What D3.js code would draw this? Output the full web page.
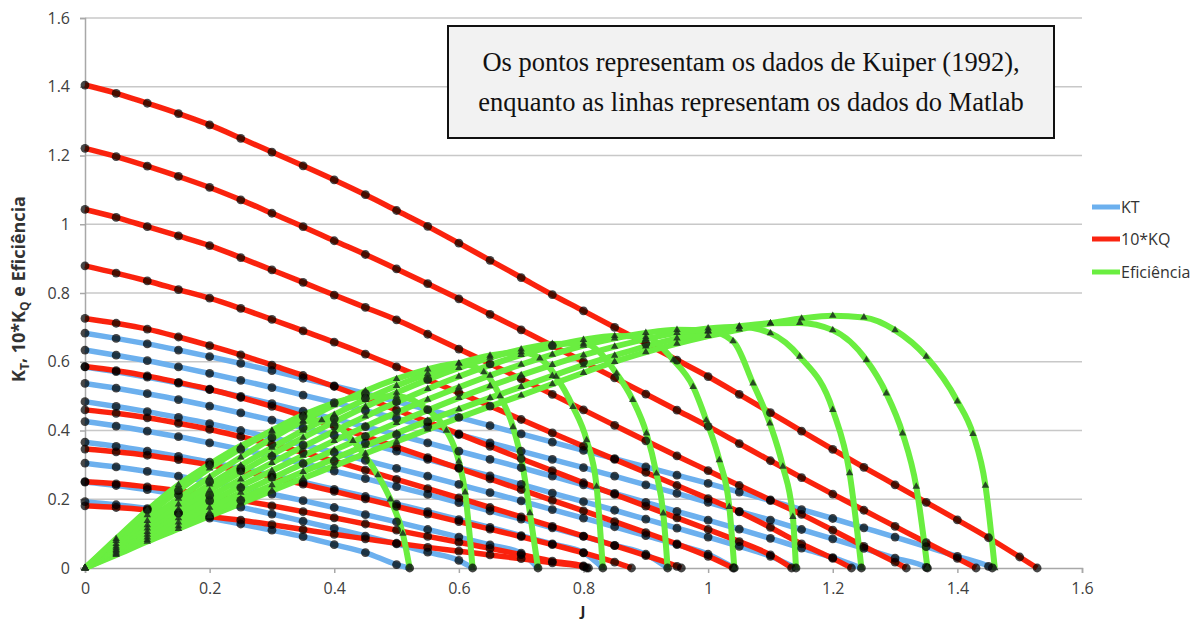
<!DOCTYPE html>
<html lang="en">
<head>
<meta charset="utf-8">
<title>KT, 10*KQ e Eficiência</title>
<script src="https://d3js.org/d3.v7.min.js"></script>
<style>
  body { margin: 0; background: #fff; }
  .tick text { font-family: "Open Sans", sans-serif; font-size: 16px; fill: #404040; }
  .tick line, .domain { stroke: #a8a8a8; stroke-width: 1.5; }
  .grid line { stroke: #c8c8c8; stroke-width: 1.5; }
</style>
</head>
<body>
<script>
const w = 1195, h = 621;

// J grid shared by the KT and 10*KQ curves
const J = [0,0.05,0.1,0.15,0.2,0.25,0.3,0.35,0.4,0.45,0.5,0.55,0.6,0.65,0.7,0.75,0.8,0.85,0.9,0.95,1,1.05,1.1,1.15,1.2,1.25,1.3,1.35,1.4,1.45,1.5];
const pitch = [1.4,1.3,1.2,1.1,1.0,0.9,0.8,0.7,0.6,0.5];

// KT (values on J grid) + J where KT reaches zero
const kt14 = [0.683,0.668,0.652,0.634,0.615,0.595,0.574,0.552,0.530,0.507,0.484,0.461,0.438,0.414,0.390,0.366,0.342,0.318,0.294,0.270,0.246,0.221,0.196,0.170,0.144,0.117,0.090,0.062,0.034,0.005];
const kt13 = [0.634,0.619,0.603,0.585,0.566,0.546,0.525,0.503,0.481,0.458,0.435,0.412,0.388,0.364,0.340,0.316,0.292,0.267,0.242,0.217,0.191,0.165,0.139,0.112,0.085,0.057,0.029,0.002];
const kt12 = [0.585,0.571,0.555,0.538,0.519,0.499,0.478,0.456,0.434,0.411,0.388,0.364,0.340,0.316,0.292,0.267,0.242,0.217,0.191,0.165,0.139,0.113,0.086,0.058,0.030];
const kt11 = [0.537,0.523,0.507,0.490,0.471,0.451,0.430,0.408,0.386,0.363,0.340,0.316,0.292,0.268,0.243,0.218,0.193,0.168,0.142,0.116,0.090,0.063,0.034];
const kt10 = [0.484,0.470,0.455,0.438,0.420,0.400,0.379,0.358,0.336,0.313,0.290,0.267,0.243,0.219,0.195,0.170,0.145,0.120,0.094,0.068,0.040];
const kt09 = [0.426,0.413,0.398,0.382,0.364,0.345,0.325,0.304,0.282,0.260,0.237,0.214,0.190,0.166,0.142,0.117,0.092,0.066,0.040];
const kt08 = [0.366,0.354,0.340,0.325,0.308,0.290,0.270,0.250,0.229,0.208,0.186,0.164,0.141,0.118,0.094,0.070,0.045];
const kt07 = [0.305,0.294,0.281,0.267,0.251,0.234,0.215,0.196,0.176,0.155,0.134,0.112,0.090,0.067,0.043];
const kt06 = [0.250,0.240,0.228,0.213,0.196,0.177,0.157,0.136,0.115,0.093,0.070,0.046,0.022];
const kt05 = [0.193,0.184,0.173,0.160,0.145,0.128,0.110,0.091,0.068,0.045,0.010];
const ktEnds = [1.456,1.352,1.246,1.141,1.042,0.935,0.831,0.727,0.622,0.521];

// 10*KQ (values on J grid) + J where it reaches zero
const kq14 = [1.405,1.381,1.352,1.322,1.289,1.250,1.210,1.170,1.129,1.086,1.040,0.994,0.945,0.895,0.845,0.795,0.748,0.700,0.653,0.605,0.557,0.505,0.452,0.398,0.345,0.293,0.242,0.191,0.140,0.088,0.032];
const kq13 = [1.221,1.197,1.169,1.139,1.107,1.071,1.032,0.993,0.952,0.912,0.870,0.827,0.783,0.738,0.693,0.647,0.600,0.553,0.506,0.459,0.412,0.362,0.312,0.263,0.215,0.168,0.121,0.074,0.028];
const kq12 = [1.043,1.020,0.993,0.966,0.938,0.903,0.867,0.831,0.794,0.758,0.722,0.680,0.637,0.594,0.550,0.505,0.460,0.415,0.370,0.326,0.283,0.240,0.198,0.156,0.110,0.063,0.017];
const kq11 = [0.879,0.858,0.835,0.810,0.785,0.755,0.723,0.690,0.657,0.622,0.585,0.548,0.510,0.471,0.432,0.393,0.354,0.316,0.278,0.240,0.202,0.163,0.118,0.070,0.028];
const kq10 = [0.726,0.712,0.695,0.672,0.647,0.620,0.590,0.560,0.528,0.494,0.460,0.425,0.390,0.354,0.318,0.283,0.248,0.214,0.180,0.146,0.112,0.077,0.038];
const kq09 = [0.586,0.574,0.559,0.540,0.520,0.496,0.470,0.442,0.413,0.383,0.352,0.321,0.290,0.259,0.228,0.197,0.166,0.135,0.103,0.070,0.034];
const kq08 = [0.460,0.450,0.437,0.421,0.403,0.382,0.360,0.336,0.311,0.285,0.258,0.231,0.204,0.176,0.149,0.121,0.093,0.065,0.036,0.005];
const kq07 = [0.346,0.338,0.328,0.315,0.300,0.283,0.264,0.244,0.223,0.201,0.179,0.157,0.135,0.113,0.091,0.068,0.044,0.017];
const kq06 = [0.251,0.245,0.236,0.225,0.212,0.197,0.181,0.164,0.146,0.128,0.110,0.092,0.075,0.057,0.039,0.020,0.006];
const kq05 = [0.181,0.176,0.169,0.160,0.150,0.139,0.126,0.112,0.098,0.085,0.072,0.060,0.049,0.038,0.027,0.015,0.004];
const kqEnds = [1.528,1.43,1.318,1.23,1.134,1.04,0.957,0.877,0.805,0.808];

// efficiency, [J, eta]
const eta14 = [[0,0],[0.05,0.038],[0.1,0.077],[0.15,0.114],[0.2,0.151],[0.25,0.188],[0.3,0.225],[0.35,0.261],[0.4,0.297],[0.45,0.333],[0.5,0.368],[0.55,0.403],[0.6,0.437],[0.65,0.47],[0.7,0.502],[0.75,0.535],[0.8,0.568],[0.85,0.6],[0.9,0.628],[0.95,0.653],[1,0.675],[1.05,0.694],[1.1,0.712],[1.15,0.726],[1.2,0.734],[1.25,0.729],[1.3,0.692],[1.35,0.615],[1.4,0.485],[1.425,0.39],[1.445,0.24],[1.46,0]];
const eta13 = [[0,0],[0.05,0.041],[0.1,0.082],[0.15,0.122],[0.2,0.162],[0.25,0.202],[0.3,0.241],[0.35,0.28],[0.4,0.318],[0.45,0.356],[0.5,0.392],[0.55,0.428],[0.6,0.462],[0.65,0.495],[0.7,0.527],[0.75,0.559],[0.8,0.59],[0.85,0.618],[0.9,0.645],[0.95,0.668],[1,0.688],[1.05,0.703],[1.1,0.712],[1.147,0.713],[1.2,0.692],[1.254,0.605],[1.286,0.508],[1.312,0.392],[1.334,0.237],[1.352,0]];
const eta12 = [[0,0],[0.05,0.045],[0.1,0.089],[0.15,0.133],[0.2,0.176],[0.25,0.219],[0.3,0.261],[0.35,0.303],[0.4,0.343],[0.45,0.383],[0.5,0.422],[0.55,0.459],[0.6,0.495],[0.65,0.529],[0.7,0.561],[0.75,0.591],[0.8,0.619],[0.85,0.644],[0.9,0.666],[0.95,0.684],[1,0.697],[1.05,0.702],[1.1,0.683],[1.147,0.615],[1.2,0.46],[1.227,0.276],[1.246,0]];
const eta11 = [[0,0],[0.05,0.049],[0.1,0.097],[0.15,0.145],[0.2,0.192],[0.25,0.238],[0.3,0.283],[0.35,0.327],[0.4,0.37],[0.45,0.412],[0.5,0.452],[0.55,0.49],[0.6,0.526],[0.65,0.56],[0.7,0.592],[0.75,0.621],[0.8,0.647],[0.85,0.668],[0.9,0.684],[0.95,0.693],[1,0.69],[1.04,0.66],[1.072,0.537],[1.099,0.421],[1.12,0.295],[1.136,0.149],[1.141,0]];
const eta10 = [[0,0],[0.05,0.053],[0.1,0.105],[0.15,0.157],[0.2,0.208],[0.25,0.258],[0.3,0.306],[0.35,0.353],[0.4,0.398],[0.45,0.441],[0.5,0.482],[0.55,0.521],[0.6,0.557],[0.65,0.59],[0.7,0.62],[0.75,0.645],[0.8,0.664],[0.85,0.675],[0.9,0.672],[0.944,0.605],[0.976,0.527],[0.997,0.43],[1.018,0.314],[1.034,0.178],[1.042,0]];
const eta09 = [[0,0],[0.05,0.058],[0.1,0.115],[0.15,0.171],[0.2,0.226],[0.25,0.279],[0.3,0.33],[0.35,0.379],[0.4,0.425],[0.45,0.469],[0.5,0.51],[0.55,0.548],[0.6,0.582],[0.65,0.612],[0.7,0.636],[0.75,0.652],[0.8,0.653],[0.853,0.566],[0.879,0.489],[0.901,0.392],[0.917,0.275],[0.928,0.159],[0.935,0]];
const eta08 = [[0,0],[0.05,0.063],[0.1,0.125],[0.15,0.185],[0.2,0.243],[0.25,0.298],[0.3,0.35],[0.35,0.4],[0.4,0.446],[0.45,0.49],[0.5,0.53],[0.55,0.565],[0.6,0.595],[0.65,0.618],[0.7,0.628],[0.73,0.61],[0.756,0.557],[0.783,0.469],[0.805,0.372],[0.821,0.237],[0.831,0]];
const eta07 = [[0,0],[0.05,0.07],[0.1,0.137],[0.15,0.202],[0.2,0.264],[0.25,0.322],[0.3,0.377],[0.35,0.428],[0.4,0.474],[0.45,0.515],[0.5,0.55],[0.55,0.578],[0.6,0.595],[0.64,0.57],[0.666,0.5],[0.687,0.41],[0.703,0.29],[0.714,0.16],[0.727,0]];
const eta06 = [[0,0],[0.05,0.079],[0.1,0.154],[0.15,0.225],[0.2,0.29],[0.25,0.348],[0.3,0.4],[0.35,0.445],[0.4,0.48],[0.45,0.5],[0.5,0.5],[0.55,0.46],[0.58,0.4],[0.6,0.31],[0.61,0.22],[0.622,0]];
const eta05 = [[0,0],[0.05,0.085],[0.1,0.168],[0.15,0.242],[0.2,0.302],[0.25,0.355],[0.3,0.397],[0.35,0.425],[0.38,0.43],[0.4,0.42],[0.43,0.37],[0.45,0.325],[0.47,0.27],[0.49,0.2],[0.51,0.1],[0.521,0]];

const xTicks = [0,0.2,0.4,0.6,0.8,1,1.2,1.4,1.6];
const yTicks = [0,0.2,0.4,0.6,0.8,1,1.2,1.4,1.6];
const legendLabels = ["KT","10*KQ","Eficiência"];
const noteLines = ["Os pontos representam os dados de Kuiper (1992),",
                   "enquanto as linhas representam os dados do Matlab"];

const colors = { kt: "#6cb0ee", kq: "#fa2410", eta: "#6aee40" };

const x = d3.scaleLinear().domain([0, 1.6]).range([85, 1082]);
const y = d3.scaleLinear().domain([0, 1.6]).range([568, 18]);

const onGrid = (vals, end) => vals.map((v, k) => [J[k], v]).concat([[end, 0]]);
const ktSeries = [kt14,kt13,kt12,kt11,kt10,kt09,kt08,kt07,kt06,kt05].map((v,i) => onGrid(v, ktEnds[i]));
const kqSeries = [kq14,kq13,kq12,kq11,kq10,kq09,kq08,kq07,kq06,kq05].map((v,i) => onGrid(v, kqEnds[i]));
const etaSeries = [eta14,eta13,eta12,eta11,eta10,eta09,eta08,eta07,eta06,eta05];

const svg = d3.select("body").append("svg")
  .attr("width", w).attr("height", h)
  .style("font-family", "'Open Sans', sans-serif");

const defs = svg.append("defs");
defs.append("filter").attr("id", "soft")
  .append("feGaussianBlur").attr("stdDeviation", 0.55);

// gridlines
svg.append("g").attr("class", "grid")
  .selectAll("line").data(yTicks.filter(d => d > 0)).enter().append("line")
  .attr("x1", x(0)).attr("x2", x(1.6))
  .attr("y1", d => y(d)).attr("y2", d => y(d));

svg.append("g")
  .attr("transform", "translate(" + x(0) + ",0)")
  .call(d3.axisLeft(y).tickValues(yTicks).tickSize(5).tickPadding(10).tickFormat(d => String(d)));

svg.append("g")
  .attr("transform", "translate(0," + y(0) + ")")
  .call(d3.axisBottom(x).tickValues(xTicks).tickSize(5).tickPadding(10).tickFormat(d => String(d)));

const line = d3.line().x(d => x(d[0])).y(d => y(d[1])).curve(d3.curveMonotoneX);

const plot = svg.append("g").attr("filter", "url(#soft)");

plot.selectAll("path.kt").data(ktSeries).enter().append("path")
  .attr("class", "kt").attr("d", line)
  .attr("fill", "none").attr("stroke", colors.kt).attr("stroke-width", 5.5);

plot.selectAll("path.kq").data(kqSeries).enter().append("path")
  .attr("class", "kq").attr("d", line)
  .attr("fill", "none").attr("stroke", colors.kq).attr("stroke-width", 5.5);

plot.selectAll("path.eta").data(etaSeries).enter().append("path")
  .attr("class", "eta").attr("d", line)
  .attr("fill", "none").attr("stroke", colors.eta).attr("stroke-width", 6);

// Kuiper points
const dots = ktSeries.concat(kqSeries).flat();
plot.selectAll("circle.pt").data(dots).enter().append("circle")
  .attr("class", "pt")
  .attr("cx", d => x(d[0])).attr("cy", d => y(d[1])).attr("r", 4.4)
  .attr("fill", "#000").attr("fill-opacity", 0.72);

const tri = d3.symbol().type(d3.symbolTriangle).size(24);
plot.selectAll("path.tri").data(etaSeries.flat()).enter().append("path")
  .attr("class", "tri").attr("d", tri)
  .attr("transform", d => "translate(" + x(d[0]) + "," + y(d[1]) + ")")
  .attr("fill", "#1c2e1c").attr("fill-opacity", 0.85);

// note box
svg.append("rect")
  .attr("x", 448).attr("y", 26).attr("width", 606).attr("height", 112)
  .attr("fill", "#f2f2f2").attr("stroke", "#111").attr("stroke-width", 2);
svg.selectAll("text.note").data(noteLines).enter().append("text")
  .attr("class", "note")
  .attr("x", 751).attr("y", (d, i) => 71 + i * 40)
  .attr("text-anchor", "middle")
  .style("font-family", "'Liberation Serif', 'Times New Roman', serif")
  .style("font-size", "26.5px").attr("fill", "#111")
  .text(d => d);

// legend
const legend = svg.selectAll("g.legend").data(legendLabels).enter().append("g")
  .attr("class", "legend")
  .attr("transform", (d, i) => "translate(1092," + [207, 239, 272][i] + ")");
legend.append("line").attr("x1", 0).attr("x2", 28)
  .attr("stroke", (d, i) => [colors.kt, colors.kq, colors.eta][i]).attr("stroke-width", 5);
legend.append("text").attr("x", 29).attr("dy", "0.35em")
  .style("font-size", "16px").attr("fill", "#333").text(d => d);

// axis titles
const yt = svg.append("text")
  .attr("transform", "translate(25,289) rotate(-90)")
  .attr("text-anchor", "middle")
  .style("font-size", "18px").style("font-weight", "bold").attr("fill", "#333");
yt.append("tspan").text("K");
yt.append("tspan").attr("dy", 4).style("font-size", "12px").text("T");
yt.append("tspan").attr("dy", -4).text(", 10*K");
yt.append("tspan").attr("dy", 4).style("font-size", "12px").text("Q");
yt.append("tspan").attr("dy", -4).text(" e Eficiência");

svg.append("text")
  .attr("x", 583).attr("y", 616)
  .attr("text-anchor", "middle")
  .style("font-size", "15px").style("font-weight", "bold").attr("fill", "#222")
  .text("J");
</script>
</body>
</html>
